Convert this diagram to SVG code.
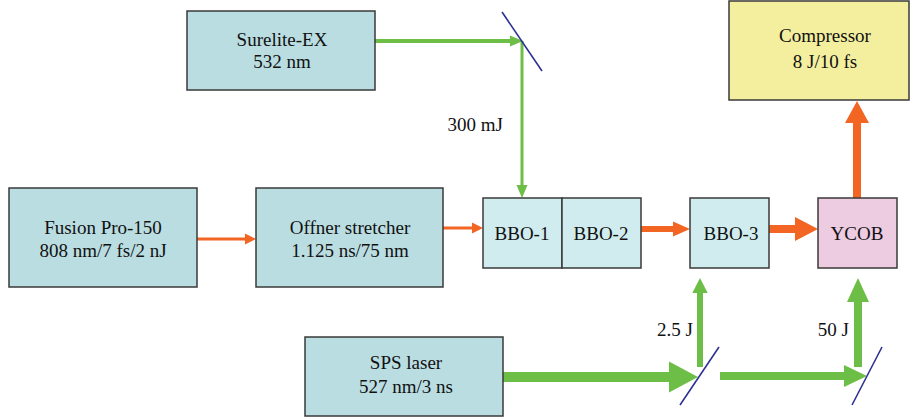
<svg xmlns="http://www.w3.org/2000/svg" width="911" height="419" viewBox="0 0 911 419">
<style>
.box{stroke:#3a3a3a;stroke-width:1.5}
.teal{fill:#badde1}
.light{fill:#d0ecef}
.pink{fill:#edcbe1}
.yellow{fill:#f3ef9f}
text{font-size:19px;fill:#111;text-anchor:middle}
.lbl{text-anchor:end}
.g{stroke:#6dbe46;fill:none}
.o{stroke:#f26522;fill:none}
.gf{fill:#6dbe46}
.of{fill:#f26522}
.m{stroke:#2e3192;stroke-width:1.6}
</style>
<rect width="911" height="419" fill="#fff"/>
<g font-family="Liberation Serif, Times New Roman, DejaVu Serif, serif">
<g id="connectors">
<line class="g" x1="375" y1="41" x2="512" y2="41" stroke-width="4"/>
<polygon class="gf" points="510,35.5 523,41 510,46.5"/>
<line class="g" x1="522" y1="41" x2="522" y2="186" stroke-width="3"/>
<polygon class="gf" points="516.5,185 527.5,185 522,198"/>
<line class="o" x1="197" y1="239" x2="246" y2="239" stroke-width="3"/>
<polygon class="of" points="245,233.5 256,239 245,244.5"/>
<line class="o" x1="443" y1="228" x2="473" y2="228" stroke-width="3"/>
<polygon class="of" points="472,222.5 483,228 472,233.5"/>
<line class="o" x1="641" y1="229" x2="675" y2="229" stroke-width="6"/>
<polygon class="of" points="673,221.5 690,229 673,236.5"/>
<line class="o" x1="769" y1="229" x2="797" y2="229" stroke-width="8"/>
<polygon class="of" points="795,217 818,229 795,241"/>
<line class="o" x1="857" y1="198" x2="857" y2="121" stroke-width="8"/>
<polygon class="of" points="845,123 869,123 857,101"/>
<line class="g" x1="503" y1="377" x2="671" y2="377" stroke-width="10"/>
<polygon class="gf" points="669,361.5 698,377 669,392.5"/>
<line class="g" x1="700" y1="367" x2="700" y2="291" stroke-width="6"/>
<polygon class="gf" points="692.3,293 707.7,293 700,278"/>
<line class="g" x1="720" y1="376" x2="846" y2="376" stroke-width="8"/>
<polygon class="gf" points="844,365 867,376 844,387"/>
<line class="g" x1="858" y1="367" x2="858" y2="300" stroke-width="8"/>
<polygon class="gf" points="847,302 869,302 858,278"/>
<line class="m" x1="502" y1="12" x2="542" y2="71"/>
<line class="m" x1="680" y1="405" x2="719" y2="347"/>
<line class="m" x1="852" y1="405" x2="882" y2="347"/>
<text class="lbl" x="503" y="131">300 mJ</text>
<text class="lbl" x="693" y="336">2.5 J</text>
<text class="lbl" x="849" y="336">50 J</text>
</g>
<g id="surelite">
<rect class="box teal" x="187" y="11" width="188" height="79"/>
<text x="282" y="46">Surelite-EX</text>
<text x="282" y="68">532 nm</text>
</g>
<g id="compressor">
<rect class="box yellow" x="729" y="1" width="180" height="99"/>
<text x="825" y="42">Compressor</text>
<text x="825" y="68">8 J/10 fs</text>
</g>
<g id="fusion">
<rect class="box teal" x="9" y="188" width="188" height="99"/>
<text x="103" y="234">Fusion Pro-150</text>
<text x="103" y="257">808 nm/7 fs/2 nJ</text>
</g>
<g id="offner">
<rect class="box teal" x="256" y="188" width="187" height="99"/>
<text x="350" y="234">Offner stretcher</text>
<text x="350" y="257">1.125 ns/75 nm</text>
</g>
<g id="bbo1">
<rect class="box light" x="483" y="198" width="79" height="70"/>
<text x="522" y="240">BBO-1</text>
</g>
<g id="bbo2">
<rect class="box light" x="562" y="198" width="79" height="70"/>
<text x="601" y="240">BBO-2</text>
</g>
<g id="bbo3">
<rect class="box light" x="690" y="198" width="79" height="70"/>
<text x="731" y="240">BBO-3</text>
</g>
<g id="ycob">
<rect class="box pink" x="818" y="198" width="79" height="70"/>
<text x="857" y="240">YCOB</text>
</g>
<g id="sps">
<rect class="box teal" x="305" y="337" width="198" height="79"/>
<text x="406" y="369">SPS laser</text>
<text x="406" y="393">527 nm/3 ns</text>
</g>
</g>
</svg>
